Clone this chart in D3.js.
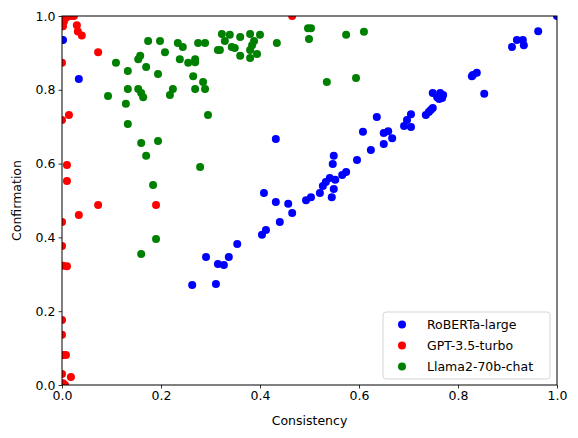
<!DOCTYPE html>
<html>
<head>
<meta charset="utf-8">
<script src="https://cdn.jsdelivr.net/npm/d3@7"></script>
<style>
  body { margin: 0; background: #fff; }
  text { font-family: "DejaVu Sans", sans-serif; }
</style>
</head>
<body>
<div id="chart"></div>
<script>
// [consistency, confirmation] pairs
const robertaPoints = [
  [0.002, 0.935], [0.034, 0.829], [1.0, 1.0], [0.962, 0.959], [0.919, 0.935],
  [0.931, 0.935], [0.909, 0.916], [0.933, 0.921], [0.830, 0.840], [0.838, 0.846],
  [0.828, 0.837], [0.853, 0.789], [0.749, 0.791], [0.764, 0.791], [0.770, 0.786],
  [0.762, 0.775], [0.768, 0.778], [0.758, 0.780], [0.749, 0.751], [0.745, 0.745],
  [0.741, 0.740], [0.735, 0.732], [0.705, 0.734], [0.697, 0.718], [0.691, 0.702],
  [0.705, 0.699], [0.636, 0.726], [0.608, 0.686], [0.650, 0.683], [0.659, 0.688],
  [0.667, 0.669], [0.650, 0.653], [0.624, 0.637], [0.596, 0.610], [0.574, 0.577],
  [0.566, 0.569], [0.549, 0.621], [0.547, 0.599], [0.552, 0.556], [0.541, 0.561],
  [0.533, 0.550], [0.527, 0.539], [0.549, 0.531], [0.521, 0.520], [0.545, 0.509],
  [0.503, 0.509], [0.493, 0.501], [0.432, 0.667], [0.408, 0.520], [0.432, 0.496],
  [0.457, 0.491], [0.465, 0.466], [0.440, 0.442], [0.412, 0.420], [0.404, 0.407],
  [0.354, 0.382], [0.291, 0.347], [0.337, 0.347], [0.315, 0.328], [0.327, 0.325],
  [0.263, 0.271], [0.311, 0.274]
];

const gptPoints = [
  [0.0, 1.0], [0.008, 0.995], [0.012, 1.0], [0.018, 1.0], [0.024, 1.0],
  [0.004, 0.985], [0.002, 0.972], [0.030, 0.975], [0.032, 0.958], [0.040, 0.947],
  [0.465, 1.0], [0.073, 0.902], [0.0, 0.873], [0.014, 0.732], [0.0, 0.718],
  [0.010, 0.596], [0.010, 0.553], [0.073, 0.488], [0.190, 0.488], [0.034, 0.461],
  [0.0, 0.442], [0.0, 0.377], [0.002, 0.323], [0.010, 0.322], [0.0, 0.176],
  [0.0, 0.136], [0.003, 0.081], [0.008, 0.081], [0.0, 0.030], [0.018, 0.022],
  [0.002, 0.005], [0.006, 0.0]
];

const llamaPoints = [
  [0.174, 0.932], [0.198, 0.932], [0.234, 0.927], [0.244, 0.916], [0.275, 0.927],
  [0.289, 0.927], [0.323, 0.951], [0.339, 0.949], [0.360, 0.943], [0.380, 0.951],
  [0.400, 0.949], [0.329, 0.932], [0.315, 0.908], [0.319, 0.908], [0.343, 0.916],
  [0.349, 0.913], [0.380, 0.908], [0.384, 0.921], [0.388, 0.932], [0.394, 0.897],
  [0.380, 0.886], [0.360, 0.892], [0.434, 0.927], [0.208, 0.902], [0.158, 0.892],
  [0.154, 0.883], [0.109, 0.873], [0.238, 0.883], [0.255, 0.873], [0.269, 0.883],
  [0.269, 0.875], [0.170, 0.862], [0.133, 0.851], [0.194, 0.843], [0.265, 0.837],
  [0.285, 0.821], [0.269, 0.802], [0.289, 0.802], [0.224, 0.802], [0.218, 0.786],
  [0.133, 0.802], [0.154, 0.802], [0.160, 0.791], [0.164, 0.780], [0.093, 0.783],
  [0.129, 0.762], [0.295, 0.732], [0.133, 0.707], [0.160, 0.656], [0.194, 0.661],
  [0.170, 0.621], [0.279, 0.591], [0.184, 0.542], [0.190, 0.396], [0.160, 0.355],
  [0.497, 0.967], [0.503, 0.967], [0.499, 0.938], [0.574, 0.949], [0.610, 0.957],
  [0.535, 0.821], [0.594, 0.832]
];

const seriesNames = ["RoBERTa-large", "GPT-3.5-turbo", "Llama2-70b-chat"];
const seriesColors = ["#0000ff", "#ff0000", "#008000"];
const tickValues = [0, 0.2, 0.4, 0.6, 0.8, 1.0];

const width = 578, height = 438;
const margin = { left: 62, right: 21, top: 16, bottom: 53 };

const svg = d3.select("#chart")
    .append("svg")
    .attr("width", width)
    .attr("height", height);

const x = d3.scaleLinear().domain([0, 1]).range([margin.left, width - margin.right]);
const y = d3.scaleLinear().domain([0, 1]).range([height - margin.bottom, margin.top]);

// clip so the points on the edges get cut like matplotlib does
svg.append("clipPath")
    .attr("id", "plot-clip")
    .append("rect")
    .attr("x", x(0))
    .attr("y", y(1))
    .attr("width", x(1) - x(0))
    .attr("height", y(0) - y(1));

const allSeries = [robertaPoints, gptPoints, llamaPoints];

const plot = svg.append("g").attr("clip-path", "url(#plot-clip)");
allSeries.forEach((pts, i) => {
    plot.append("g")
        .selectAll("circle")
        .data(pts)
        .enter()
        .append("circle")
        .attr("cx", d => x(d[0]))
        .attr("cy", d => y(d[1]))
        .attr("r", 4)
        .attr("fill", seriesColors[i]);
});

// axes
const xAxis = svg.append("g")
    .attr("transform", `translate(0,${y(0)})`)
    .call(d3.axisBottom(x).tickValues(tickValues).tickFormat(d3.format(".1f")).tickSizeOuter(0).tickSize(3.5).tickPadding(3));

const yAxis = svg.append("g")
    .attr("transform", `translate(${x(0)},0)`)
    .call(d3.axisLeft(y).tickValues(tickValues).tickFormat(d3.format(".1f")).tickSizeOuter(0).tickSize(3.5).tickPadding(3));

[xAxis, yAxis].forEach(a => {
    a.select(".domain").remove();
    a.selectAll("text").style("font-size", "12.5px").attr("fill", "#000");
    a.selectAll("line").attr("stroke", "#000").attr("stroke-width", 0.8);
});

// frame
svg.append("rect")
    .attr("x", x(0))
    .attr("y", y(1))
    .attr("width", x(1) - x(0))
    .attr("height", y(0) - y(1))
    .attr("fill", "none")
    .attr("stroke", "#000")
    .attr("stroke-width", 1);

svg.append("text")
    .attr("x", (x(0) + x(1)) / 2)
    .attr("y", 425)
    .attr("text-anchor", "middle")
    .style("font-size", "12.5px")
    .text("Consistency");

svg.append("text")
    .attr("transform", `translate(21,${(y(0) + y(1)) / 2}) rotate(-90)`)
    .attr("text-anchor", "middle")
    .style("font-size", "12.5px")
    .text("Confirmation");

// legend
const legend = svg.append("g").attr("transform", "translate(383,312)");
legend.append("rect")
    .attr("width", 167)
    .attr("height", 67)
    .attr("rx", 3)
    .attr("fill", "#fff")
    .attr("fill-opacity", 0.8)
    .attr("stroke", "#d6d6d6");

seriesNames.forEach((name, i) => {
    const row = legend.append("g").attr("transform", `translate(0,${12.5 + i * 21})`);
    row.append("circle")
        .attr("cx", 19)
        .attr("cy", 0)
        .attr("r", 4)
        .attr("fill", seriesColors[i]);
    row.append("text")
        .attr("x", 44)
        .attr("y", 0)
        .attr("dy", "0.35em")
        .style("font-size", "12.5px")
        .text(name);
});
</script>
</body>
</html>
